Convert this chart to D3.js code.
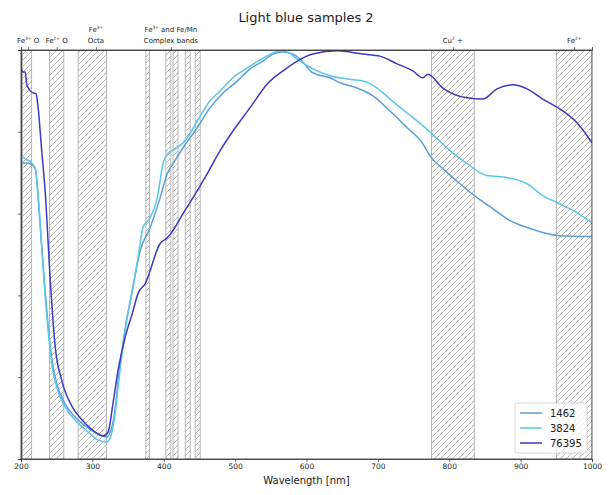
<!DOCTYPE html>
<html>
<head>
  <meta charset="utf-8">
  <title>Light blue samples 2</title>
  <style>
    body { margin: 0; background: #fff; }
    text { font-family: "DejaVu Sans", sans-serif; fill: #222; }
  </style>
</head>
<body>
  <div class="container"></div>

  <script src="https://d3js.org/d3.v7.min.js"></script>
  <script type="text/javascript">
  // spectra (wavelength nm / normalised reflectance)
  var wl1462 = [200, 206, 213, 220, 224, 229, 234, 238, 243, 250, 262, 276, 294, 308, 320, 327, 332, 336, 346, 356, 367, 381, 395, 405, 413, 427, 447, 465, 483, 503, 521, 539, 553, 567, 581, 591, 609, 633, 647, 671, 693, 717, 741, 763, 773, 791, 815, 839, 861, 885, 909, 931, 955, 1000];
  var r1462  = [0.724, 0.724, 0.722, 0.710, 0.644, 0.522, 0.407, 0.327, 0.246, 0.185, 0.134, 0.102, 0.076, 0.061, 0.054, 0.076, 0.124, 0.188, 0.320, 0.412, 0.510, 0.566, 0.639, 0.698, 0.722, 0.761, 0.810, 0.859, 0.895, 0.924, 0.954, 0.973, 0.990, 0.995, 0.990, 0.978, 0.944, 0.932, 0.920, 0.907, 0.888, 0.851, 0.810, 0.771, 0.741, 0.710, 0.673, 0.639, 0.612, 0.583, 0.566, 0.554, 0.546, 0.544];

  var wl3824 = [200, 206, 213, 220, 224, 229, 234, 238, 243, 250, 262, 276, 294, 308, 320, 327, 332, 336, 346, 356, 364, 371, 381, 391, 399, 405, 419, 433, 447, 465, 479, 497, 517, 539, 553, 567, 591, 609, 633, 657, 679, 699, 717, 741, 763, 777, 801, 825, 853, 881, 909, 931, 955, 979, 1000];
  var r3824  = [0.741, 0.734, 0.727, 0.712, 0.639, 0.517, 0.395, 0.315, 0.234, 0.176, 0.127, 0.095, 0.066, 0.046, 0.041, 0.063, 0.112, 0.176, 0.315, 0.412, 0.493, 0.566, 0.590, 0.639, 0.722, 0.746, 0.761, 0.785, 0.827, 0.876, 0.900, 0.932, 0.956, 0.980, 0.993, 0.998, 0.973, 0.954, 0.937, 0.929, 0.924, 0.907, 0.880, 0.846, 0.815, 0.793, 0.754, 0.722, 0.693, 0.688, 0.673, 0.644, 0.624, 0.602, 0.578];

  var wl76395 = [200, 203, 206, 208, 213, 217, 221, 224, 229, 234, 241, 248, 257, 272, 286, 304, 315, 322, 329, 336, 346, 356, 364, 374, 395, 405, 413, 427, 441, 461, 479, 497, 521, 545, 567, 587, 609, 643, 679, 703, 727, 749, 763, 770, 791, 825, 847, 867, 889, 909, 931, 955, 979, 1000];
  var r76395  = [0.955, 0.946, 0.946, 0.917, 0.900, 0.895, 0.893, 0.859, 0.754, 0.651, 0.437, 0.273, 0.193, 0.127, 0.095, 0.066, 0.056, 0.066, 0.137, 0.217, 0.298, 0.356, 0.405, 0.429, 0.527, 0.541, 0.559, 0.600, 0.639, 0.698, 0.754, 0.802, 0.859, 0.917, 0.949, 0.973, 0.990, 0.998, 0.990, 0.985, 0.966, 0.949, 0.932, 0.941, 0.907, 0.883, 0.880, 0.905, 0.915, 0.905, 0.880, 0.856, 0.822, 0.773];

  var seriesNames = ["1462", "3824", "76395"];
  var seriesColors = ["#5b9fd6", "#5cc6e6", "#3a3ac4"];

  // absorption bands (nm)
  var bandStart = [202, 240, 280, 375, 403, 413, 430, 444, 775, 950];
  var bandEnd   = [215, 260, 320, 380, 410, 420, 437, 451, 835, 1000];

  // labels on the top axis
  var topTicks  = [210, 250, 305, 410, 805, 975];
  var topLabels = [["Fe^{3+} O"], ["Fe^{2+} O"], ["Fe^{3+}", "Octa"], ["Fe^{3+}  and Fe/Mn", "Complex bands"], ["Cu^{2} +"], ["Fe^{2+}"]];

  var xTicks = [200, 300, 400, 500, 600, 700, 800, 900, 1000];
  var yTicks = [0, 0.2, 0.4, 0.6, 0.8, 1.0];

  var margin = {top: 50, right: 17, bottom: 36, left: 21},
      width = 609 - margin.left - margin.right,
      height = 495 - margin.top - margin.bottom;

  var svg = d3.select(".container")
      .append("svg")
      .attr("width", 609)
      .attr("height", 495);

  var defs = svg.append("defs");
  var pat = defs.append("pattern")
      .attr("id", "hatch")
      .attr("patternUnits", "userSpaceOnUse")
      .attr("width", 6)
      .attr("height", 6);
  pat.append("path")
      .attr("d", "M0,6 L6,0 M-1.5,1.5 L1.5,-1.5 M4.5,7.5 L7.5,4.5")
      .attr("stroke", "#9a9a9a")
      .attr("stroke-width", 0.7);

  defs.append("clipPath").attr("id", "clip")
    .append("rect").attr("width", width).attr("height", height);

  var g = svg.append("g")
      .attr("transform", "translate(" + margin.left + "," + margin.top + ")");

  var xScale = d3.scaleLinear().domain([200, 1000]).range([0, width]);
  var yScale = d3.scaleLinear().domain([0, 1]).range([height, 0]);

  // hatched bands
  var bands = d3.range(bandStart.length).map(function(i) { return [bandStart[i], bandEnd[i]]; });
  g.append("g").attr("clip-path", "url(#clip)")
    .selectAll("rect")
    .data(bands)
    .enter()
    .append("rect")
      .attr("x", function(d) { return xScale(d[0]); })
      .attr("y", 0)
      .attr("width", function(d) { return xScale(d[1]) - xScale(d[0]); })
      .attr("height", height)
      .attr("fill", "url(#hatch)")
      .attr("stroke", "#9a9a9a")
      .attr("stroke-width", 0.7);

  // curves
  var series = [
    {name: seriesNames[0], color: seriesColors[0], wl: wl1462, r: r1462},
    {name: seriesNames[1], color: seriesColors[1], wl: wl3824, r: r3824},
    {name: seriesNames[2], color: seriesColors[2], wl: wl76395, r: r76395}
  ];

  var line = d3.line()
      .x(function(d) { return xScale(d[0]); })
      .y(function(d) { return yScale(d[1]); })
      .curve(d3.curveMonotoneX);

  g.append("g").attr("clip-path", "url(#clip)")
    .selectAll("path")
    .data(series)
    .enter()
    .append("path")
      .attr("d", function(s) { return line(d3.zip(s.wl, s.r)); })
      .attr("fill", "none")
      .attr("stroke", function(s) { return s.color; })
      .attr("stroke-width", 1.5)
      .attr("stroke-linejoin", "round");

  // axes
  var xAxis = g.append("g")
      .attr("transform", "translate(0," + height + ")")
      .call(d3.axisBottom(xScale).tickValues(xTicks).tickFormat(d3.format("d")).tickSize(3).tickPadding(2));
  xAxis.selectAll("text").attr("font-size", 7.5).attr("font-family", "DejaVu Sans");

  g.append("g")
      .call(d3.axisLeft(yScale).tickValues(yTicks).tickFormat("").tickSize(3));

  g.append("g")
      .call(d3.axisTop(xScale).tickValues(topTicks).tickFormat("").tickSize(3));

  g.selectAll(".domain").attr("stroke", "#333").attr("stroke-width", 0.8);
  g.selectAll(".tick line").attr("stroke", "#333").attr("stroke-width", 0.7);

  // frame
  g.append("rect")
      .attr("width", width)
      .attr("height", height)
      .attr("fill", "none")
      .attr("stroke", "#333")
      .attr("stroke-width", 0.8);

  // top labels with superscripts, "^{..}" marks a raised part
  function addRich(sel, str, size) {
    var parts = str.split(/\^\{([^}]*)\}/);
    var shift = 0;
    parts.forEach(function(p, i) {
      if (p === "") return;
      if (i % 2 === 1) {
        sel.append("tspan").attr("font-size", size * 0.62).attr("dy", -size * 0.4 - shift).text(p);
        shift = -size * 0.4;
      } else {
        sel.append("tspan").attr("font-size", size).attr("dy", -shift).text(p);
        shift = 0;
      }
    });
  }

  topTicks.forEach(function(t, i) {
    var lines = topLabels[i];
    lines.forEach(function(str, j) {
      var txt = g.append("text")
          .attr("x", xScale(t))
          .attr("y", -7 - (lines.length - 1 - j) * 11)
          .attr("text-anchor", "middle")
          .attr("font-size", 7);
      addRich(txt, str, 7);
    });
  });

  // x label and title
  svg.append("text")
      .attr("x", margin.left + width / 2)
      .attr("y", 484)
      .attr("text-anchor", "middle")
      .attr("font-size", 10)
      .text("Wavelength [nm]");

  svg.append("text")
      .attr("x", 306)
      .attr("y", 22)
      .attr("text-anchor", "middle")
      .attr("font-size", 13)
      .text("Light blue samples 2");

  // legend
  var leg = g.append("g")
      .attr("transform", "translate(" + (width - 77) + "," + (height - 56) + ")");
  leg.append("rect")
      .attr("width", 72)
      .attr("height", 50)
      .attr("rx", 2.5)
      .attr("fill", "#fff")
      .attr("fill-opacity", 0.8)
      .attr("stroke", "#ccc")
      .attr("stroke-width", 0.8);
  var items = leg.selectAll(".item")
      .data(series)
      .enter()
      .append("g")
      .attr("transform", function(d, i) { return "translate(0," + (10 + i * 15) + ")"; });
  items.append("line")
      .attr("x1", 5).attr("x2", 27)
      .attr("stroke", function(d) { return d.color; })
      .attr("stroke-width", 1.5);
  items.append("text")
      .attr("x", 35)
      .attr("dy", "0.35em")
      .attr("font-size", 10)
      .text(function(d) { return d.name; });
  </script>
</body>
</html>
